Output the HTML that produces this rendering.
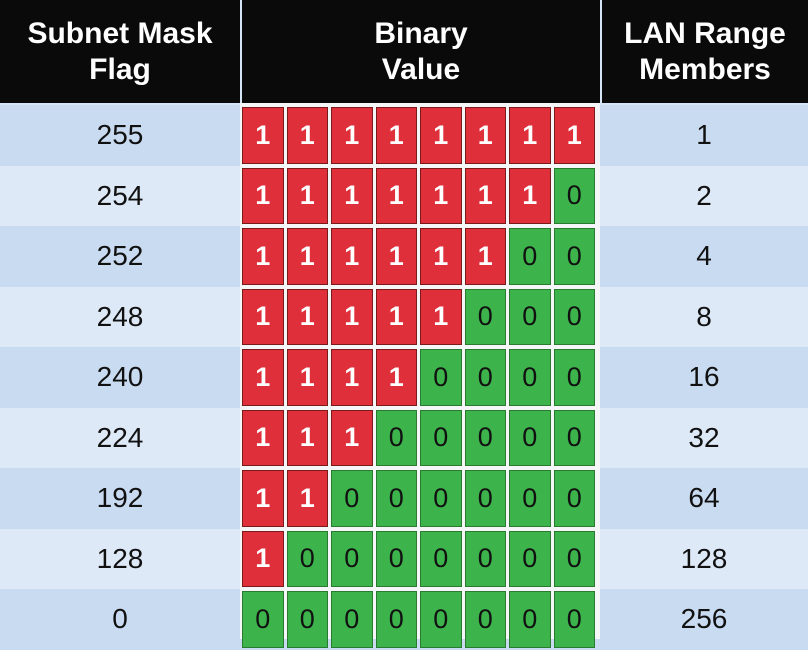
<!DOCTYPE html>
<html><head><meta charset="utf-8"><style>
body{margin:0;width:808px;height:639px;overflow:hidden;background:#d6e5f5;font-family:"Liberation Sans",sans-serif;position:relative}
.a{position:absolute;box-sizing:border-box;display:flex;align-items:center;justify-content:center;text-align:center}
.h{background:#0a0a0a;color:#fff;font-weight:bold;font-size:30px;line-height:36px}
.c{font-size:28px;color:#111}
.b{font-size:27px;font-weight:bold;border:1px solid #7a1a1a}
</style></head><body>
<div id="t"></div>
<script>
const masks=[255,254,252,248,240,224,192,128,0];
const members=[1,2,4,8,16,32,64,128,256];
const headers=["Subnet Mask<br>Flag","Binary<br>Value","LAN Range<br>Members"];
const t=document.getElementById('t');
const colX=[0,240,600,808];
const hdrH=103, top0=107, rowH=60.5;
const bx=242, bw=44.5;
headers.forEach((h,i)=>{const d=document.createElement('div');


d.className='a h';d.style.cssText=`left:${colX[i]+(i?2:0)}px;top:0;width:${colX[i+1]-colX[i]-(i?2:0)}px;height:${hdrH}px`;d.innerHTML=h;t.appendChild(d);});
masks.forEach((m,r)=>{const y=top0+r*rowH;
const bg=document.createElement('div');


bg.className='a';bg.style.cssText=`left:0;top:${y-2}px;width:808px;height:${rowH}px;background:${r%2?'#dde9f7':'#c8dbf0'}`;t.appendChild(bg);
});
const wb=document.createElement('div');


wb.className='a';wb.style.cssText=`left:240px;top:${hdrH}px;width:360px;height:${639-hdrH}px;background:#f4f6f8`;t.appendChild(wb);
masks.forEach((m,r)=>{const y=top0+r*rowH;
[[0,m],[2,members[r]]].forEach(([ci,v])=>{const d=document.createElement('div');


d.className='a c';d.style.cssText=`left:${colX[ci]}px;top:${y}px;width:${colX[ci+1]-colX[ci]}px;height:${rowH-4}px`;d.textContent=v;t.appendChild(d);});
for(let k=0;k<8;k++){const bit=(m>>(7-k))&1;const d=document.createElement('div');


d.className='a b';d.style.cssText=`left:${bx+k*bw}px;top:${y}px;width:${bw-3}px;height:${rowH-4}px;background:${bit?'#df2f3b':'#3db34b'};color:${bit?'#fff':'#111'};font-weight:${bit?'bold':'normal'};border-color:${bit?'#7a1a1a':'#2a7a30'}`;
d.textContent=bit;t.appendChild(d);}
});
</script>
</body></html>
